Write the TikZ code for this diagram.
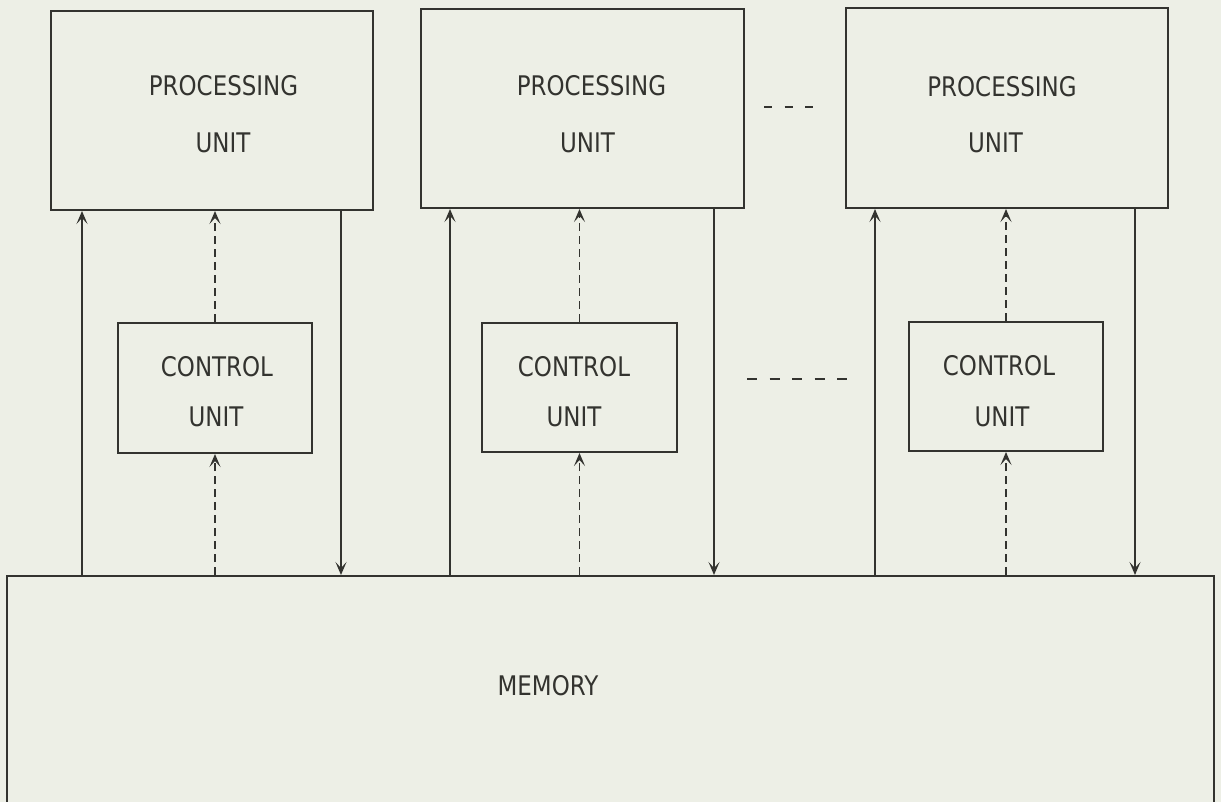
\documentclass[tikz,border=0pt]{standalone}
\usepackage{fontspec}
\setmainfont{DejaVu Sans}[FakeStretch=0.85]
\usetikzlibrary{arrows.meta}
\definecolor{paper}{HTML}{EDEFE6}
\definecolor{ink}{HTML}{33332F}
\tikzset{
  box/.style={draw=ink, line width=2pt, rectangle, inner sep=0pt},
  lbl/.style={text=ink, font=\fontsize{27pt}{30pt}\selectfont, anchor=base, inner sep=0pt},
  sarrow/.style={draw=ink, line width=1.8pt, -{Stealth[length=13pt,width=11pt,inset=6pt]}},
  darrow/.style={draw=ink, line width=1.8pt, dash pattern=on 8pt off 5pt, -{Stealth[length=13pt,width=11pt,inset=6pt]}},
  sepdash/.style={draw=ink, line width=2.4pt}
}
\begin{document}
\begin{tikzpicture}[x=1pt,y=-1pt]
\fill[paper] (0,0) rectangle (1221,802);
\useasboundingbox (0,0) rectangle (1221,802);
\clip (0,0) rectangle (1221,802);

% processing units
\node[box, minimum width=322pt, minimum height=199pt] (pu1) at (212,110.5) {};
\node[box, minimum width=323pt, minimum height=199pt] (pu2) at (582.5,108.5) {};
\node[box, minimum width=322pt, minimum height=200pt] (pu3) at (1007,108) {};
% control units
\node[box, minimum width=194pt, minimum height=130pt] (cu1) at (215,388) {};
\node[box, minimum width=195pt, minimum height=129pt] (cu2) at (579.5,387.5) {};
\node[box, minimum width=194pt, minimum height=129pt] (cu3) at (1006,386.5) {};
% memory
\node[box, minimum width=1207pt, minimum height=260pt] (mem) at (610.5,706) {};

% labels
\node[lbl] (pu1a) at (223.5,96) {PROCESSING};
\node[lbl] (pu1b) at (223,153) {UNIT};
\node[lbl] (pu2a) at (591.5,96) {PROCESSING};
\node[lbl] (pu2b) at (587.5,153) {UNIT};
\node[lbl] (pu3a) at (1002,97) {PROCESSING};
\node[lbl] (pu3b) at (995.5,153) {UNIT};
\node[lbl] (cu1a) at (217,377) {CONTROL};
\node[lbl] (cu1b) at (216,426) {UNIT};
\node[lbl] (cu2a) at (574,377) {CONTROL};
\node[lbl] (cu2b) at (574,426) {UNIT};
\node[lbl] (cu3a) at (999,375) {CONTROL};
\node[lbl] (cu3b) at (1002,426) {UNIT};
\node[lbl] (meml) at (548,695) {MEMORY};

% connectors: memory -> processing unit (solid up)
\draw[sarrow] ([xshift=32pt]pu1.south west |- mem.north) -- ([xshift=32pt]pu1.south west);
\draw[sarrow] ([xshift=30pt]pu2.south west |- mem.north) -- ([xshift=30pt]pu2.south west);
\draw[sarrow] ([xshift=30pt]pu3.south west |- mem.north) -- ([xshift=30pt]pu3.south west);
% processing unit -> memory (solid down)
\draw[sarrow] ([xshift=-33pt]pu1.south east) -- ([xshift=-33pt]pu1.south east |- mem.north);
\draw[sarrow] ([xshift=-31pt]pu2.south east) -- ([xshift=-31pt]pu2.south east |- mem.north);
\draw[sarrow] ([xshift=-34pt]pu3.south east) -- ([xshift=-34pt]pu3.south east |- mem.north);
% control unit -> processing unit (dashed)
\draw[darrow] (cu1.north) -- (cu1.north |- pu1.south);
\draw[darrow] (cu2.north) -- (cu2.north |- pu2.south);
\draw[darrow] (cu3.north) -- (cu3.north |- pu3.south);
% memory -> control unit (dashed)
\draw[darrow] (cu1.south |- mem.north) -- (cu1.south);
\draw[darrow] (cu2.south |- mem.north) -- (cu2.south);
\draw[darrow] (cu3.south |- mem.north) -- (cu3.south);

% ellipsis marks
\coordinate (e1a) at (764,107);
\coordinate (e1b) at (813,107);
\coordinate (e2a) at (747,379);
\coordinate (e2b) at (847,379);
\draw[sepdash, dash pattern=on 8pt off 12.5pt] (e1a) -- (e1b);
\draw[sepdash, dash pattern=on 10pt off 12.5pt] (e2a) -- (e2b);
\end{tikzpicture}
\end{document}
